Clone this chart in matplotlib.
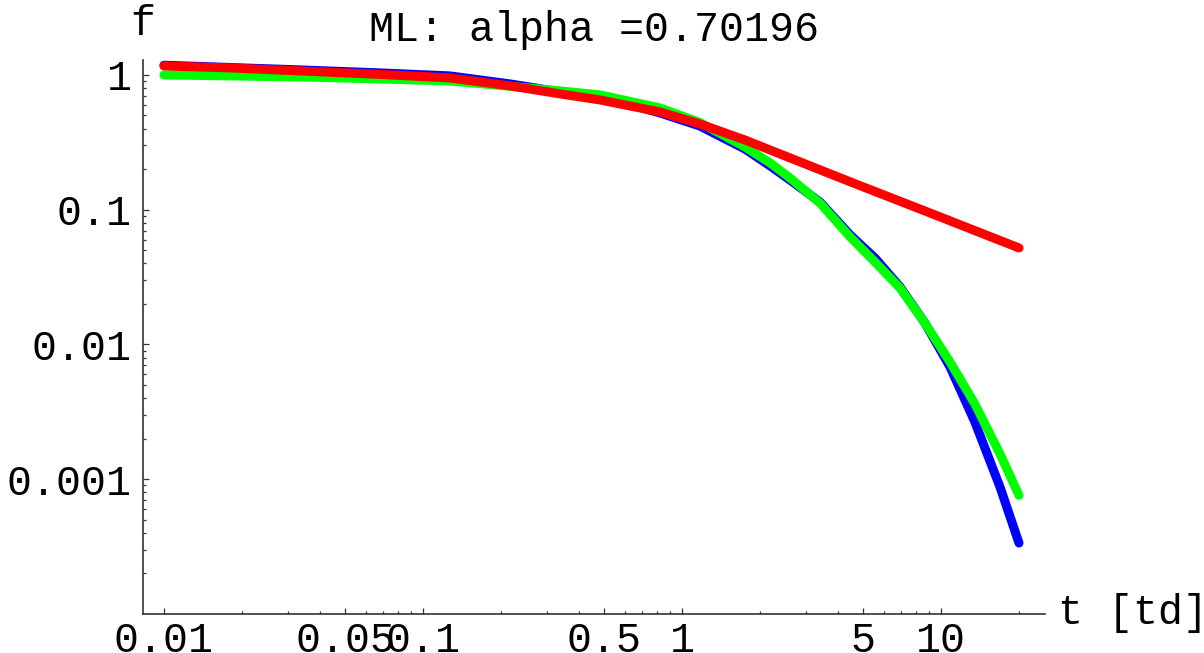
import matplotlib
matplotlib.use('Agg')
import matplotlib.pyplot as plt
from matplotlib.ticker import FixedLocator, FixedFormatter, NullFormatter

# relaxation curves, log-log
t_blue = [0.01, 0.0335, 0.068, 0.127, 0.217, 0.338, 0.482, 0.822, 1.17, 1.75,
          2.19, 2.61, 3.41, 4.46, 5.56, 6.95, 8.67, 10.84, 13.52, 16.9, 20.0]
f_blue = [1.18, 1.089, 1.035, 0.983, 0.857, 0.748, 0.698, 0.522, 0.418, 0.282,
          0.211, 0.166, 0.114, 0.0649, 0.0438, 0.0267, 0.0144, 0.00679,
          0.00265, 0.000873, 0.000336]

t_green = [0.01, 0.0335, 0.068, 0.127, 0.217, 0.338, 0.482, 0.822, 1.17, 1.75,
           2.19, 2.61, 3.41, 4.46, 5.56, 6.95, 8.67, 10.84, 13.52, 16.9, 20.0]
f_green = [1.0, 0.966, 0.934, 0.903, 0.822, 0.761, 0.711, 0.569, 0.444, 0.292,
           0.222, 0.172, 0.112, 0.0627, 0.0409, 0.0262, 0.0144, 0.0074,
           0.00361, 0.00154, 0.00076]

t_red = [0.01, 0.018, 0.0335, 0.068, 0.127, 0.217, 0.338, 0.482, 0.822, 1.17,
         1.75, 2.86, 4.46, 9.5, 20.0]
f_red = [1.166, 1.127, 1.07, 1.009, 0.95, 0.829, 0.723, 0.652, 0.531, 0.433,
         0.329, 0.226, 0.161, 0.0913, 0.052]

x_major = [0.01, 0.05, 0.1, 0.5, 1, 5, 10]
x_labels = ['0.01', '0.05', '0.1', '0.5', '1', '5', '10']
y_major = [0.001, 0.01, 0.1, 1]
y_labels = ['0.001', '0.01', '0.1', '1']

alpha = 0.70196

plt.rcParams['font.family'] = ['Liberation Mono', 'DejaVu Sans Mono']
fs = 30
axis_color = '#333333'

fig = plt.figure(figsize=(12.04, 6.53), dpi=100)
ax = fig.add_axes([143 / 1204, 1 - 614 / 653, (1045 - 143) / 1204, (614 - 60) / 653])

lw = 6.5
for t, f, c in ((t_blue, f_blue, '#0000ff'),
                (t_green, f_green, '#00ff00'),
                (t_red, f_red, '#ff0000')):
    ax.plot(t, f, color=c, lw=lw, solid_capstyle='round', solid_joinstyle='round')

ax.set_xscale('log')
ax.set_yscale('log')
ax.set_xlim(0.0083, 25.2)
ax.set_ylim(1e-4, 1.29)

x_minor = [k * 10.0 ** e for e in (-2, -1, 0, 1) for k in range(2, 10)]
x_minor = [v for v in x_minor if v not in x_major]
y_minor = [k * 10.0 ** e for e in (-4, -3, -2, -1) for k in range(2, 10)]

ax.xaxis.set_major_locator(FixedLocator(x_major))
ax.xaxis.set_major_formatter(FixedFormatter(x_labels))
ax.xaxis.set_minor_locator(FixedLocator(x_minor))
ax.xaxis.set_minor_formatter(NullFormatter())
ax.yaxis.set_major_locator(FixedLocator(y_major))
ax.yaxis.set_major_formatter(FixedFormatter(y_labels))
ax.yaxis.set_minor_locator(FixedLocator(y_minor))
ax.yaxis.set_minor_formatter(NullFormatter())

for side in ('top', 'right'):
    ax.spines[side].set_visible(False)
for side in ('left', 'bottom'):
    ax.spines[side].set_color(axis_color)
    ax.spines[side].set_linewidth(1.2)

ax.tick_params(which='both', direction='in', color=axis_color, width=0.9,
               labelsize=fs, labelcolor='black')
ax.tick_params(which='major', length=4.5)
ax.tick_params(which='minor', length=2.5)
ax.tick_params(axis='x', which='major', pad=5)
ax.tick_params(axis='y', which='major', pad=8)

fig.text(143 / 1204, 1 - 24 / 653, 'f', fontsize=fs, ha='center', va='center')
fig.text(1058 / 1204, 1 - 613 / 653, 't [td]', fontsize=fs, ha='left', va='center')
fig.text(594 / 1204, 1 - 30 / 653, 'ML: alpha =' + str(alpha), fontsize=fs,
         ha='center', va='center')

fig.savefig('out.png', dpi=100)
